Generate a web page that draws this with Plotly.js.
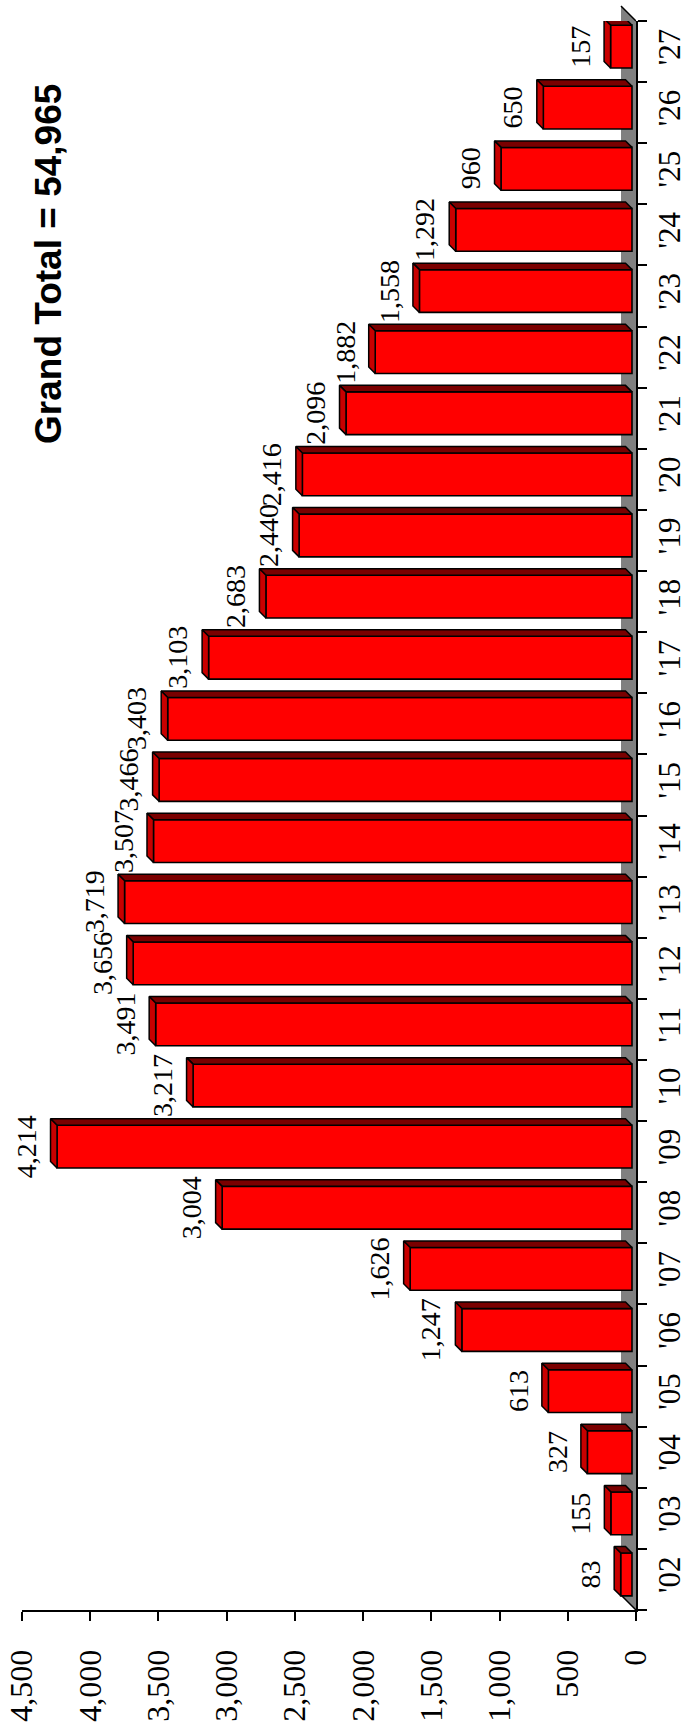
<!DOCTYPE html>
<html>
<head>
<meta charset="utf-8">
<script src="https://cdn.plot.ly/plotly-3.0.1.min.js"></script>
<style>
  html, body { margin: 0; padding: 0; background: #ffffff; overflow: hidden; }
  #chart { width: 689px; height: 1735px; }
</style>
</head>
<body>
<div id="chart"></div>
<script>
// ---- data ----
const categories = ["'02","'03","'04","'05","'06","'07","'08","'09","'10","'11","'12","'13","'14",
                    "'15","'16","'17","'18","'19","'20","'21","'22","'23","'24","'25","'26","'27"];
const counts = [83, 155, 327, 613, 1247, 1626, 3004, 4214, 3217, 3491, 3656, 3719, 3507,
                3466, 3403, 3103, 2683, 2440, 2416, 2096, 1882, 1558, 1292, 960, 650, 157];
const valueTicks = [0, 500, 1000, 1500, 2000, 2500, 3000, 3500, 4000, 4500];
const titleText = "Grand Total = 54,965";

// ---- geometry / style ----
const W = 689, H = 1735;
const M = { l: 22, r: 53, t: 21, b: 125 };
const plotW = W - M.l - M.r;
const plotH = H - M.t - M.b;
const vMax = valueTicks[valueTicks.length - 1];
const pxPerUnit = plotW / vMax;
const pxPerCat = plotH / categories.length;

const FLOOR_PX = 15;      // floor depth
const SHIFT_PX = 4;       // bar front face pushed back from the floor front
const DEPTH_PX = 6.5;     // bar depth
const BAR_W = 0.70;       // bar width (category units)
const BAR_UP_PX = 5;      // front face raised from category centre

const b0 = SHIFT_PX / pxPerUnit;
const dxv = DEPTH_PX / pxPerUnit;
const dyc = DEPTH_PX / pxPerCat;
const barOffset = -BAR_W / 2 + BAR_UP_PX / pxPerCat;

const FRONT = '#ff0000', TOPFACE = '#c80000', SIDEFACE = '#7a0000', FLOOR = '#808080';

// front faces
const front = {
  type: 'bar', orientation: 'h',
  y: categories, x: counts, base: counts.map(() => b0),
  width: BAR_W, offset: barOffset,
  marker: { color: FRONT, line: { color: '#000000', width: 1.6 } },
  hoverinfo: 'skip', xaxis: 'x', yaxis: 'y'
};

// depth faces built from the same data
const topX = [], topY = [], sideX = [], sideY = [];
counts.forEach((v, i) => {
  const yb = i + barOffset, yt = yb + BAR_W;
  const xe = b0 + v;
  topX.push(xe, xe, xe + dxv, xe + dxv, xe, null);
  topY.push(yb, yt, yt + dyc, yb + dyc, yb, null);
  sideX.push(b0, xe, xe + dxv, b0 + dxv, b0, null);
  sideY.push(yt, yt, yt + dyc, yt + dyc, yt, null);
});
const sideFace = {
  type: 'scatter', mode: 'lines', x: sideX, y: sideY, fill: 'toself',
  fillcolor: SIDEFACE, line: { color: '#000000', width: 1.5 },
  hoverinfo: 'skip', xaxis: 'x', yaxis: 'y2'
};
const topFace = {
  type: 'scatter', mode: 'lines', x: topX, y: topY, fill: 'toself',
  fillcolor: TOPFACE, line: { color: '#000000', width: 1.5 },
  hoverinfo: 'skip', xaxis: 'x', yaxis: 'y2'
};

// value labels
const valueLabels = counts.map((v, i) => ({
  x: b0 + v, y: categories[i], xref: 'x', yref: 'y',
  text: v.toLocaleString('en-US'), showarrow: false, textangle: -90,
  xanchor: 'right', yanchor: 'middle', xshift: -13, yshift: BAR_UP_PX,
  font: { family: 'Liberation Serif', size: 28, color: '#000000' }
}));

const fx = FLOOR_PX / pxPerUnit, fy = FLOOR_PX / plotH;
const shapes = [
  { type: 'path', xref: 'x', yref: 'paper', layer: 'below',
    path: `M 0,0 L 0,1 L ${fx},${1 + fy} L ${fx},${fy} Z`,
    fillcolor: FLOOR, line: { width: 0 } },
  { type: 'line', xref: 'x', yref: 'paper', layer: 'below',
    x0: 0, y0: 1, x1: fx, y1: 1 + fy, line: { color: '#000000', width: 1.5 } },
  { type: 'line', xref: 'x', yref: 'paper', layer: 'below',
    x0: 0, y0: 0, x1: fx, y1: fy, line: { color: '#000000', width: 1.5 } }
];

const layout = {
  width: W, height: H,
  margin: M,
  paper_bgcolor: '#ffffff', plot_bgcolor: '#ffffff',
  showlegend: false,
  barmode: 'overlay',
  xaxis: {
    range: [vMax, 0], tickvals: valueTicks, tickformat: ',d', tickangle: -90,
    ticks: 'outside', ticklen: 9, tickwidth: 2, tickcolor: '#000000',
    showline: true, linewidth: 2, linecolor: '#000000',
    showgrid: false, zeroline: false, ticklabelstandoff: 16,
    tickfont: { family: 'Liberation Serif', size: 32, color: '#000000' },
    fixedrange: true
  },
  yaxis: {
    type: 'category', categoryorder: 'array', categoryarray: categories,
    range: [-0.5, categories.length - 0.5], side: 'right',
    tickangle: -90, tickson: 'boundaries',
    ticks: 'outside', ticklen: 9, tickwidth: 2, tickcolor: '#000000',
    showline: true, linewidth: 2, linecolor: '#000000',
    showgrid: false, zeroline: false, ticklabelstandoff: 5,
    tickfont: { family: 'Liberation Serif', size: 31, color: '#000000' },
    fixedrange: true
  },
  yaxis2: {
    overlaying: 'y', range: [-0.5, categories.length - 0.5],
    visible: false, showgrid: false, zeroline: false, fixedrange: true
  },
  shapes: shapes,
  annotations: valueLabels.concat([{
    xref: 'paper', yref: 'paper', x: 0.042, y: 0.847,
    text: titleText, showarrow: false, textangle: -90,
    xanchor: 'center', yanchor: 'middle',
    font: { family: 'Liberation Sans', size: 37, weight: 'bold', color: '#000000' }
  }])
};

Plotly.newPlot('chart', [front, sideFace, topFace], layout, { staticPlot: true, displayModeBar: false });
</script>
</body>
</html>
